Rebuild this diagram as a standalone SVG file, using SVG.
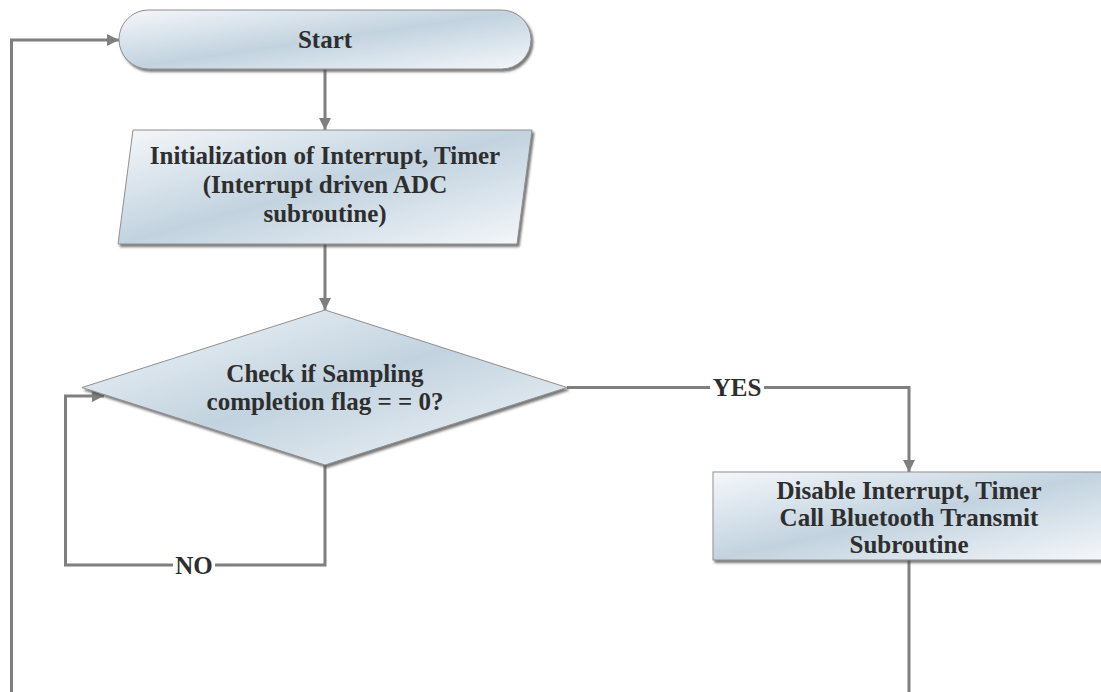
<svg xmlns="http://www.w3.org/2000/svg" width="1101" height="692" viewBox="0 0 1101 692">
  <style>
    .shape { fill: url(#fillGrad); stroke: #8f8f8f; stroke-width: 1; filter: url(#shadow); }
    .wire { fill: none; stroke: #7f7f7f; stroke-width: 3; }
    .txt { font-family: "Liberation Serif", "Times New Roman", serif; font-weight: bold; font-size: 25px; fill: #2e2e2e; text-anchor: middle; }
    .tag { fill: #ffffff; }
  </style>
  <defs>
    <linearGradient id="fillGrad" x1="0" y1="0" x2="1" y2="1">
      <stop offset="0" stop-color="#f5f7fa"/>
      <stop offset="0.5" stop-color="#c2d3df"/>
      <stop offset="1" stop-color="#f5f7fa"/>
    </linearGradient>
    <filter id="shadow" x="-5%" y="-5%" width="112%" height="120%">
      <feDropShadow dx="2" dy="2.5" stdDeviation="1.2" flood-color="#4a4a4a" flood-opacity="0.75"/>
    </filter>
    <marker id="arrow" viewBox="0 0 12 12" refX="12" refY="6" markerWidth="12" markerHeight="12" markerUnits="userSpaceOnUse" orient="auto">
      <path d="M0,0 L12,6 L0,12 Z" fill="#7f7f7f"/>
    </marker>
  </defs>

  <rect width="1101" height="692" fill="#ffffff"/>

  <!-- connectors -->
  <g id="connectors">
    <path class="wire" d="M11.5,692 V40 H119" marker-end="url(#arrow)"/>
    <path class="wire" d="M325,69 V130" marker-end="url(#arrow)"/>
    <path class="wire" d="M325,244 V310" marker-end="url(#arrow)"/>
    <path class="wire" d="M325,465 V565 H65.5 V396 H104" marker-end="url(#arrow)"/>
    <path class="wire" d="M567,387.5 H909 V472" marker-end="url(#arrow)"/>
    <path class="wire" d="M909,560 V692"/>
    <rect class="tag" x="710" y="374" width="54" height="27"/>
    <text class="txt" x="737" y="396">YES</text>
    <rect class="tag" x="173" y="552" width="42" height="27"/>
    <text class="txt" x="194" y="574">NO</text>
  </g>

  <!-- start terminator -->
  <g id="start">
    <rect class="shape" x="119" y="10" width="412" height="59" rx="29.5" ry="29.5"/>
    <text class="txt" x="325" y="48">Start</text>
  </g>

  <!-- initialisation step -->
  <g id="init">
    <polygon class="shape" points="133,130 532,130 517,244 118,244"/>
    <text class="txt" x="325" y="164">Initialization of Interrupt, Timer</text>
    <text class="txt" x="325" y="193">(Interrupt driven ADC</text>
    <text class="txt" x="325" y="222">subroutine)</text>
  </g>

  <!-- sampling check -->
  <g id="check">
    <polygon class="shape" points="325,310 567,387.5 325,465 82,387.5"/>
    <text class="txt" x="325" y="382">Check if Sampling</text>
    <text class="txt" x="325" y="410">completion flag = = 0?</text>
  </g>

  <!-- transmit step -->
  <g id="transmit">
    <rect class="shape" x="713" y="472" width="392" height="88"/>
    <text class="txt" x="909" y="499">Disable Interrupt, Timer</text>
    <text class="txt" x="909" y="526">Call Bluetooth Transmit</text>
    <text class="txt" x="909" y="553">Subroutine</text>
  </g>
</svg>
